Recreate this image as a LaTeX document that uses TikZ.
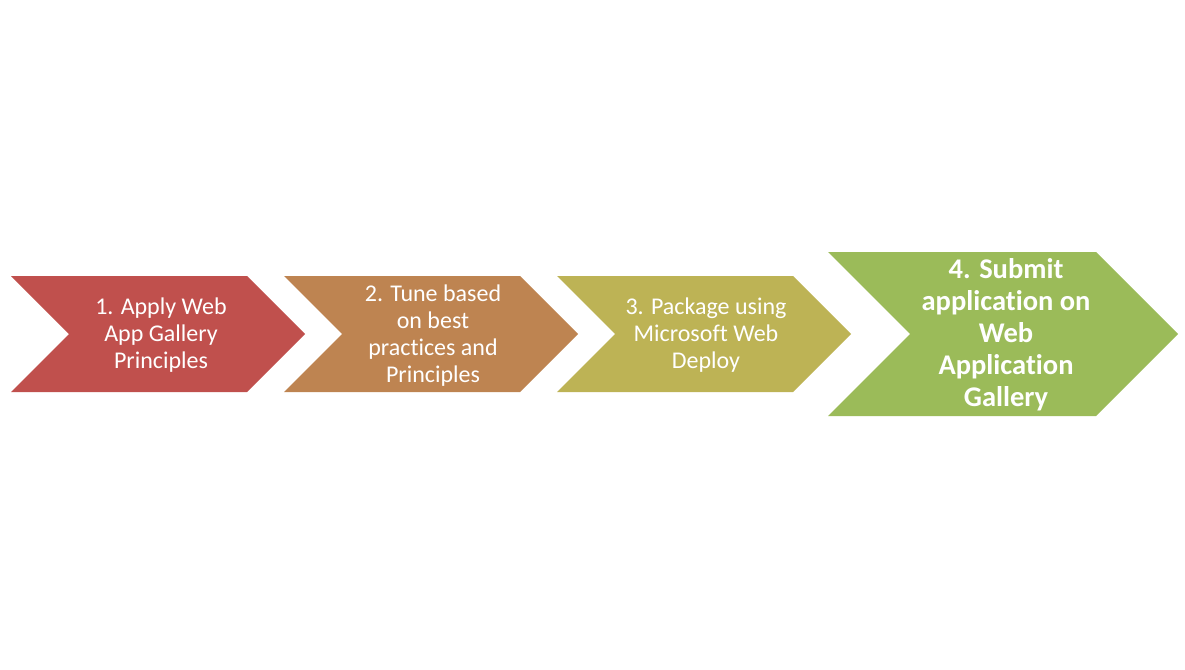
\documentclass[tikz,border=0pt]{standalone}
\usepackage{fontspec}
\setmainfont{Carlito}[Ligatures={NoCommon}]
\definecolor{cA}{HTML}{C0504D}
\definecolor{cB}{HTML}{BE8451}
\definecolor{cC}{HTML}{BDB355}
\definecolor{cD}{HTML}{9BBB59}
\tikzset{
  chev/.style={fill=#1, draw=none},
  steptext/.style={text=white, align=center, inner sep=0pt, font=\fontsize{24}{27}\selectfont},
  bigtext/.style={text=white, align=center, inner sep=0pt, font=\fontsize{28.5}{32}\selectfont\bfseries},
}
\begin{document}
\begin{tikzpicture}[x=1pt,y=-1pt]
\useasboundingbox (0,0) rectangle (1185,669);
% chevrons
\fill[chev=cA] (11,276) -- (247,276) -- (305,334) -- (247,392) -- (11,392) -- (69,334) -- cycle;
\fill[chev=cB] (284,276) -- (520,276) -- (578,334) -- (520,392) -- (284,392) -- (342,334) -- cycle;
\fill[chev=cC] (557,276) -- (793,276) -- (851,334) -- (793,392) -- (557,392) -- (615,334) -- cycle;
\fill[chev=cD] (828,252) -- (1096,252) -- (1178,334) -- (1096,416) -- (828,416) -- (910,334) -- cycle;
% texts
\node[steptext] (t1) at (161,335) {1. Apply Web\\App Gallery\\Principles};
\node[steptext] (t2) at (433,336) {2. Tune based\\on best\\practices and\\Principles};
\node[steptext] (t3) at (706,335) {3. Package using\\Microsoft Web\\Deploy};
\node[bigtext] (t4) at (1006,335) {4. Submit\\application on\\Web\\Application\\Gallery};
\end{tikzpicture}
\end{document}
